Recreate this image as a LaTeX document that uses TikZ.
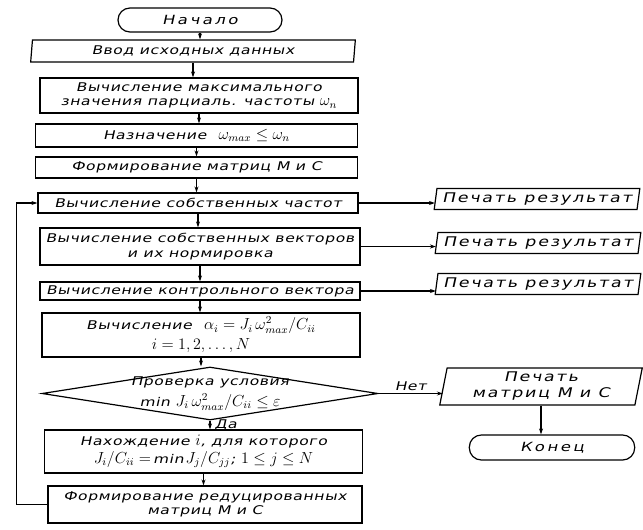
\documentclass[tikz,border=0pt]{standalone}
\usepackage{fontspec}
\setmainfont{DejaVu Sans}[FakeStretch=1.3,FakeSlant=0.22,LetterSpace=5]
\usetikzlibrary{shapes.geometric,arrows.meta}
\newcommand{\mth}[1]{{\fontsize{11.5}{12}\selectfont$#1$}}

\begin{document}
\begin{tikzpicture}[x=0.75pt,y=0.75pt,yscale=-1,xscale=1,
  font=\fontsize{9}{11}\selectfont,
  blk/.style={draw,line width=0.9pt,rectangle,inner sep=1pt,align=center},
  io/.style={draw,line width=0.9pt,trapezium,trapezium left angle=80,trapezium right angle=100,trapezium stretches=true,inner sep=1pt,align=center},
  term/.style={draw,line width=0.9pt,rectangle,rounded corners=9pt,inner sep=1pt,font=\fontsize{9.5}{11}\selectfont\addfontfeature{LetterSpace=20}},
  print/.style={io,font=\fontsize{10}{12}\selectfont\addfontfeature{LetterSpace=14}},
  dia/.style={draw,line width=0.9pt,diamond,inner sep=0pt,minimum width=252pt,minimum height=39.75pt},
  arr/.style={-{Stealth[length=4.5pt,width=3pt]},line width=0.8pt}]
        \useasboundingbox (0,0) rectangle (643,529);
        \node [term,minimum width=123pt,minimum height=18pt] (start) at (200,20) {Начало};
        \node [io,minimum width=244pt,minimum height=16.5pt,trapezium left angle=85,trapezium right angle=95] (input) at (193,51) {Ввод исходных данных};
        \node [blk,minimum width=238.5pt,minimum height=26.25pt] (wmax) at (199,95.5) {Вычисление максимального\\значения парциаль. частоты \mth{\omega_n}};
        \node [blk,minimum width=242pt,minimum height=17.25pt] (assign) at (196.5,135.5) {Назначение\quad \mth{\omega_{max}\leq\omega_n}};
        \node [blk,minimum width=242pt,minimum height=15.75pt] (mats) at (196.5,167.5) {Формирование матриц M и C};
        \node [blk,minimum width=240pt,minimum height=15pt] (freq) at (198,203) {Вычисление собственных частот};
        \node [blk,minimum width=240pt,minimum height=27.75pt] (vecs) at (200,246.5) {Вычисление собственных векторов\\и их нормировка};
        \node [blk,minimum width=240pt,minimum height=13.5pt] (ctrl) at (200,291) {Вычисление контрольного вектора};
        \node [blk,minimum width=238.5pt,minimum height=33pt] (alpha) at (201,335) {Вычисление\quad \mth{\alpha_i=J_i\,\omega^2_{max}/C_{ii}}\\[3pt]\mth{i=1,2,\ldots,N}};
        \node [dia] (check) at (210,393.5) {};
        \node [align=center,inner sep=0pt] at (check) {Проверка условия\\[3pt]min \mth{J_i\,\omega^2_{max}/C_{ii}\leq\varepsilon}};
        \node [blk,minimum width=238pt,minimum height=32.25pt] (find) at (203.5,451.5) {Нахождение \mth{i}, для которого\\[2pt]\mth{J_i/C_{ii}=}\,min\,\mth{J_j/C_{jj}};\ \mth{1\leq j\leq N}};
        \node [blk,minimum width=235.5pt,minimum height=27.75pt] (reduce) at (205,504.5) {Формирование редуцированных\\матриц M и C};
        \node [print,minimum width=154.5pt,minimum height=15.75pt] (out1) at (537,199) {Печать результат};
        \node [print,minimum width=154.5pt,minimum height=15.75pt] (out2) at (538,243) {Печать результат};
        \node [print,minimum width=154.5pt,minimum height=15.75pt] (out3) at (538,284) {Печать результат};
        \node [print,minimum width=152pt,minimum height=27.75pt] (outmc) at (541,386.5) {Печать\\матриц M и C};
        \node [term,minimum width=124pt,minimum height=18.75pt] (stop) at (552,447.5) {Конец};
        \draw [arr] (start.south) -- (start.south |- input.north);
        \draw [arr] (input.south) -- (input.south |- wmax.north);
        \draw [arr] (wmax.south) -- (wmax.south |- assign.north);
        \draw [arr] (assign.south) -- (assign.south |- mats.north);
        \draw [arr] (mats.south) -- (mats.south |- freq.north);
        \draw [arr] (freq.south) -- (freq.south |- vecs.north);
        \draw [arr] (vecs.south) -- (vecs.south |- ctrl.north);
        \draw [arr] (ctrl.south) -- (ctrl.south |- alpha.north);
        \draw [arr] (alpha.south) -- (alpha.south |- check.north);
        \draw [arr] (check.south) -- node [right,inner sep=3pt] {Да} (check.south |- find.north);
        \draw [arr] (find.south) -- (find.south |- reduce.north);
        \draw [arr] (reduce.west) -- ++(-31,0) |- (freq.west);
        \draw [arr] (freq.east) -- (freq.east -| out1.west);
        \draw [arr] (vecs.east) -- (vecs.east -| out2.west);
        \draw [arr] (ctrl.east) -- (ctrl.east -| out3.west);
        \draw [arr] (check.east) -- node [above,inner sep=2pt] {Нет} (check.east -| outmc.west);
        \draw [arr] (outmc.south) -- (outmc.south |- stop.north);
\end{tikzpicture}
\end{document}
